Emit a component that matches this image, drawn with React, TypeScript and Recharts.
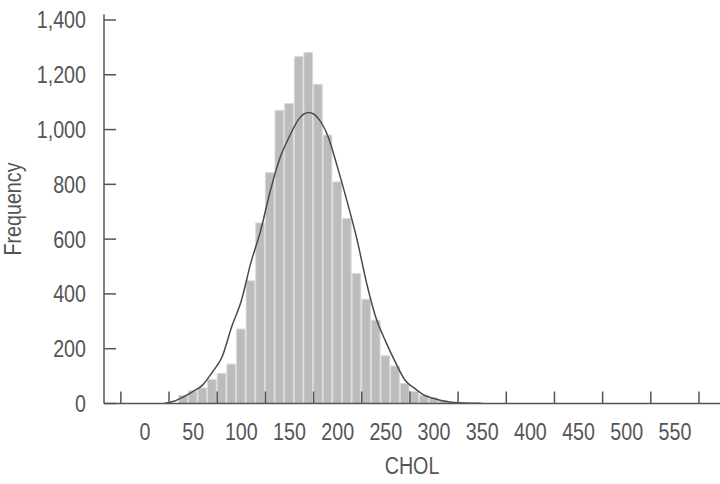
import { ComposedChart, Bar, Line, XAxis, YAxis } from 'recharts';

// bin midpoints (CHOL), bin width 10
const chol = [20, 30, 40, 50, 60, 70, 80, 90, 100, 110, 120, 130, 140, 150, 160, 170, 180, 190, 200, 210, 220, 230, 240, 250, 260, 270, 280, 290, 300, 310, 320, 330, 340, 350];
const freq = [null, null, 30, 46, 57, 88, 110, 144, 272, 448, 659, 843, 1070, 1095, 1266, 1281, 1165, 980, 809, 675, 475, 381, 304, 174, 137, 73, 44, 30, 20, 10, 5, 3, 2, 1];
const curve = [0, 8, 24, 44, 68, 115, 170, 280, 375, 515, 630, 775, 895, 975, 1040, 1062, 1040, 975, 860, 735, 600, 440, 310, 225, 150, 85, 55, 30, 18, 9, 4, 2, 1, 0];

// labelled ticks sit at multiples of 50, the tick marks halfway between them
const xLabels = [0, 50, 100, 150, 200, 250, 300, 350, 400, 450, 500, 550];
const xMarks = [-25, 25, 75, 125, 175, 225, 275, 325, 375, 425, 475, 525, 575];
const yTicks = [0, 200, 400, 600, 800, 1000, 1200, 1400];

const data = chol.map((x, i) => ({ x, freq: freq[i], curve: curve[i] }));
const xTicks = [...xMarks, ...xLabels].sort((a, b) => a - b);

const FONT = "'Liberation Sans', Arial, sans-serif";
const INK = '#555';
const SIZE = 24;
const NARROW = 0.82; // squeeze to mimic the condensed face

const XTick = ({ x, y, payload }: any) => {
  const v = payload.value;
  if (xMarks.includes(v)) {
    return <line x1={x} x2={x} y1={y} y2={y - 12} stroke={INK} strokeWidth={1.5} />;
  }
  return (
    <text
      transform={`translate(${x},${y + 36}) scale(${NARROW},1)`}
      textAnchor="middle"
      fill={INK}
      fontSize={SIZE}
      fontFamily={FONT}
    >
      {v}
    </text>
  );
};

const YTick = ({ x, y, payload }: any) => (
  <g>
    <line x1={x} x2={x + 12} y1={y} y2={y} stroke={INK} strokeWidth={1.5} />
    <text
      transform={`translate(${x - 18},${y + 8.5}) scale(${NARROW},1)`}
      textAnchor="end"
      fill={INK}
      fontSize={SIZE}
      fontFamily={FONT}
    >
      {payload.value.toLocaleString('en-US')}
    </text>
  </g>
);

const XTitle = ({ viewBox }: any) => (
  <text
    transform={`translate(${viewBox.x + viewBox.width / 2},${viewBox.y + viewBox.height - 10}) scale(${NARROW},1)`}
    textAnchor="middle"
    fill={INK}
    fontSize={SIZE}
    fontFamily={FONT}
  >
    CHOL
  </text>
);

const YTitle = ({ viewBox }: any) => (
  <text
    transform={`translate(13,${viewBox.y + viewBox.height / 2}) rotate(-90) scale(${NARROW},1)`}
    textAnchor="middle"
    dy="0.35em"
    fill={INK}
    fontSize={SIZE}
    fontFamily={FONT}
  >
    Frequency
  </text>
);

export default function App() {
  return (
    <div style={{ position: 'absolute', left: 0, top: 0 }}>
      <ComposedChart
        width={720}
        height={484}
        data={data}
        margin={{ top: 14.5, right: 0, left: 0, bottom: 0 }}
      >
        <XAxis
          dataKey="x"
          type="number"
          domain={[-42.5, 596.8]}
          allowDataOverflow
          ticks={xTicks}
          interval={0}
          height={80.5}
          tickLine={false}
          tickSize={0}
          tickMargin={0}
          axisLine={{ stroke: INK, strokeWidth: 1.5 }}
          tick={<XTick />}
          label={<XTitle />}
        />
        <YAxis
          type="number"
          domain={[0, 1420]}
          allowDataOverflow
          ticks={yTicks}
          interval={0}
          width={104}
          tickLine={false}
          tickSize={0}
          tickMargin={0}
          axisLine={{ stroke: INK, strokeWidth: 1.5 }}
          tick={<YTick />}
          label={<YTitle />}
        />
        <Bar
          dataKey="freq"
          barSize={9.65}
          fill="#bcbcbc"
          stroke="#dadada"
          strokeWidth={1}
          isAnimationActive={false}
        />
        <Line
          dataKey="curve"
          type="monotone"
          stroke="#4a4a4a"
          strokeWidth={1.5}
          dot={false}
          activeDot={false}
          isAnimationActive={false}
        />
      </ComposedChart>
    </div>
  );
}
